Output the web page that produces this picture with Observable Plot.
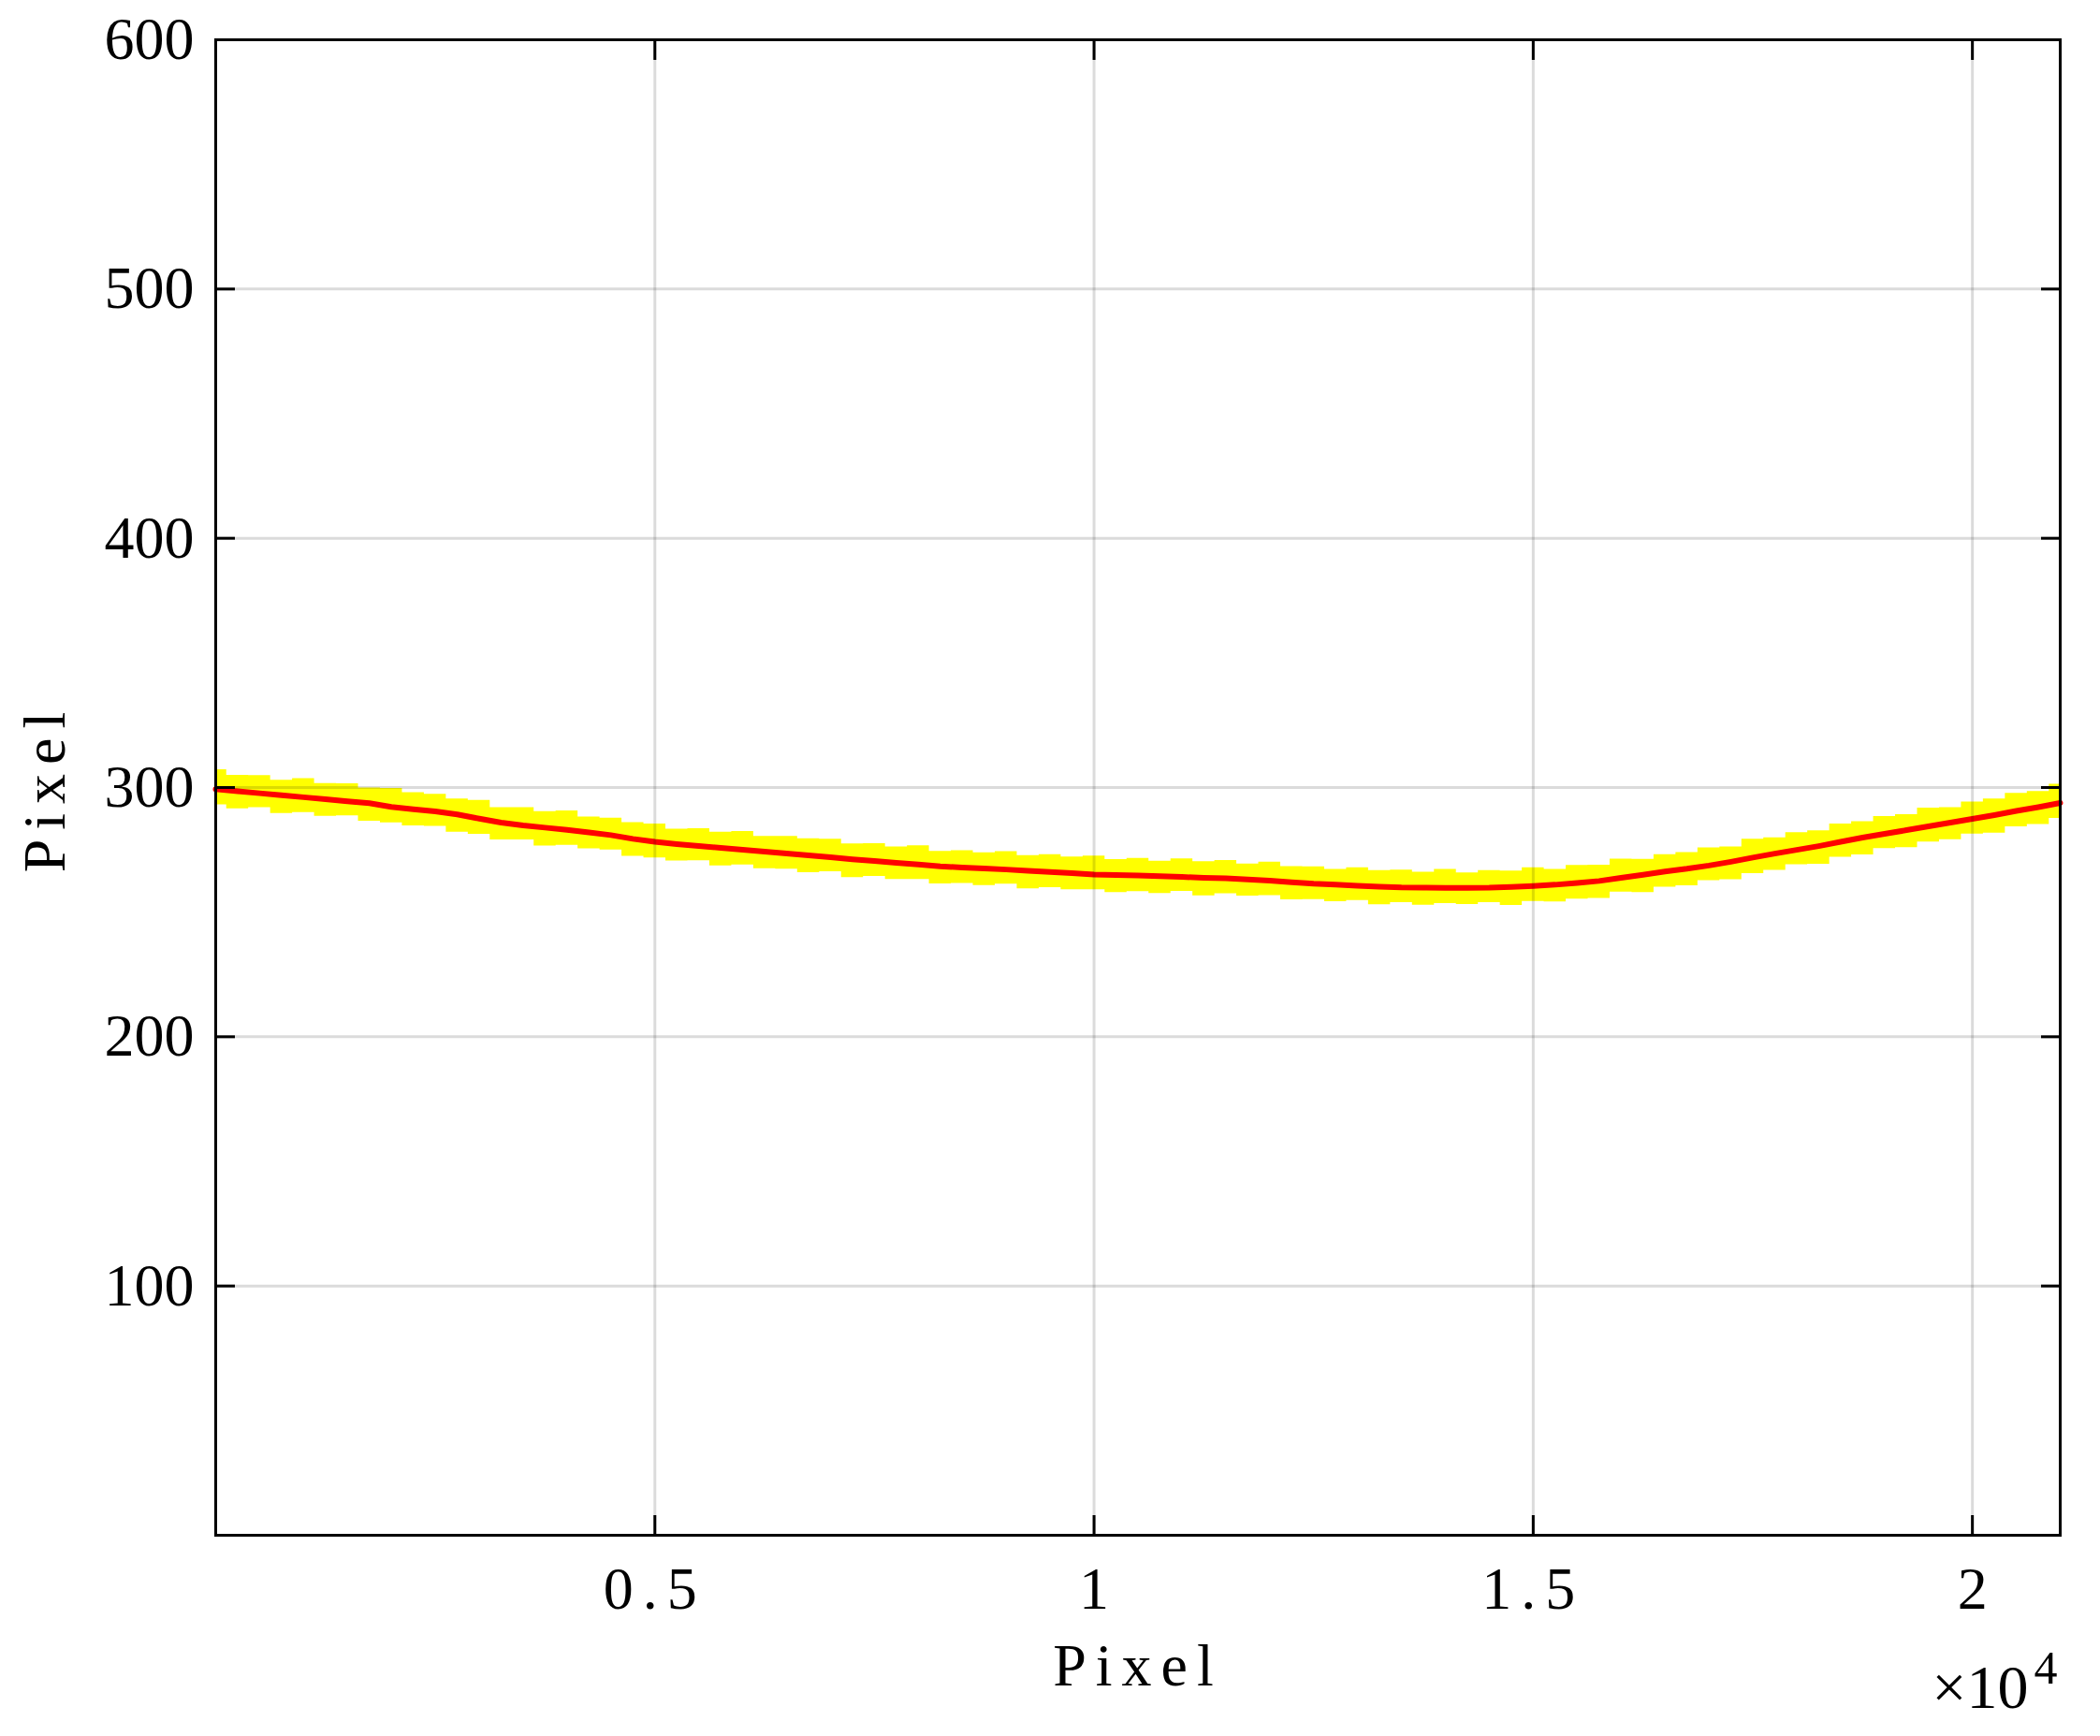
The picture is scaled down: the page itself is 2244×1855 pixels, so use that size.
<!DOCTYPE html>
<html><head><meta charset="utf-8">
<script src="https://cdn.jsdelivr.net/npm/d3@7"></script>
<script src="https://cdn.jsdelivr.net/npm/@observablehq/plot@0.6"></script>
<style>
body{margin:0;background:#fff}
svg{font-family:"Liberation Serif",serif}
</style></head><body><div id="chart"></div>
<script>
// sampling grid of the traces (pixel index step)
const sampleStep = 250;
// red trace (fitted centre), one value per sample
const centre = [
299.3,298.5,297.7,296.9,296.1,295.3,294.5,293.7,292.2,291.3,
290.4,289.2,287.5,285.9,284.8,283.9,283.0,282.0,280.9,279.4,
278.2,277.3,276.5,275.8,275.0,274.3,273.5,272.8,272.0,271.2,
270.5,269.8,269.1,268.4,267.9,267.5,267.1,266.6,266.1,265.6,
265.1,264.9,264.7,264.4,264.1,263.8,263.6,263.1,262.6,262.0,
261.4,261.0,260.6,260.2,259.9,259.8,259.7,259.7,259.8,260.1,
260.5,261.0,261.7,262.5,263.8,265.0,266.3,267.4,268.7,270.2,
271.9,273.5,275.0,276.5,278.2,279.9,281.4,282.9,284.4,285.9,
287.4,288.9,290.6,292.1,293.8];
// yellow raw trace spread above / below the centre
const upperSpread = [
7.8,6.4,7.1,6.0,7.5,6.3,7.0,6.1,7.4,6.6,
6.9,6.2,7.3,6.0,7.1,6.4,7.6,6.2,6.8,6.5,
7.2,6.0,7.0,6.3,7.4,6.1,6.9,6.6,7.3,6.2,
7.0,6.4,7.5,6.0,6.8,6.3,7.2,6.1,7.0,6.5,
7.4,6.2,6.9,6.0,7.3,6.4,7.1,6.2,7.5,6.3,
6.8,6.1,7.2,6.5,7.0,6.2,7.4,6.0,6.9,6.4,
7.3,6.1,7.0,6.3,7.5,6.2,6.8,6.5,7.1,6.0,
7.4,6.3,6.9,6.1,7.2,6.4,7.0,6.2,7.3,6.0,
6.8,6.5,7.1,6.3,7.5];
const lowerSpread = [
6.2,7.0,5.8,7.3,6.1,6.8,5.9,7.2,6.4,6.7,
6.0,7.1,6.3,6.9,5.8,7.4,6.2,6.6,6.0,7.0,
6.5,6.8,5.9,7.2,6.1,6.9,6.3,7.0,5.8,7.3,
6.2,6.7,6.0,7.1,6.4,6.8,5.9,7.2,6.3,6.6,
6.1,7.0,6.5,6.9,5.8,7.3,6.2,6.7,6.0,7.1,
6.4,6.8,5.9,7.2,6.1,7.0,6.3,6.6,6.0,7.4,
6.2,6.9,6.5,7.0,5.8,7.1,6.3,6.8,6.1,7.2,
6.4,6.7,6.0,7.3,6.2,6.9,5.9,7.0,6.3,6.8,
6.1,7.2,6.4,6.9,6.2];
const xDomain = [0, 21000];
const yDomain = [0, 600];
const xTicks = [5000, 10000, 15000, 20000];
const xTickLabels = ["0.5", "1", "1.5", "2"];
const yTicks = [100, 200, 300, 400, 500, 600];
const yTickLabels = ["100", "200", "300", "400", "500", "600"];
const xLabel = "Pixel";
const yLabel = "Pixel";
const exponentBase = "×10";
const exponentPower = "4";

const rows = centre.map((c, i) => ({
  x: i * sampleStep, c, hi: c + upperSpread[i], lo: c - lowerSpread[i]
}));

const plot = Plot.plot({
  width: 2244, height: 1855,
  marginLeft: 230, marginRight: 43, marginTop: 42, marginBottom: 215,
  style: {fontFamily: "Liberation Serif", fontSize: "64px", color: "black", background: "white", overflow: "visible"},
  x: {domain: xDomain},
  y: {domain: yDomain},
  marks: [
    Plot.areaY(rows, {x: "x", y1: "lo", y2: "hi", fill: "#ffff00", curve: "step"}),
    Plot.lineY(rows, {x: "x", y: "c", stroke: "#ff0000", strokeWidth: 6}),
    Plot.gridX(xTicks, {stroke: "black", strokeOpacity: 0.14, strokeWidth: 3}),
    Plot.gridY(yTicks, {stroke: "black", strokeOpacity: 0.14, strokeWidth: 3}),
    Plot.axisX({anchor: "bottom", ticks: xTicks, tickSize: -21, tickPadding: 54, strokeWidth: 3,
      tickFormat: d => xTickLabels[xTicks.indexOf(d)], label: null}),
    Plot.axisX({anchor: "top", ticks: xTicks, tickSize: -21, strokeWidth: 3, tickFormat: () => "", label: null}),
    Plot.axisY({anchor: "left", ticks: yTicks, tickSize: -21, tickPadding: 44, strokeWidth: 3,
      tickFormat: d => yTickLabels[yTicks.indexOf(d)], label: null}),
    Plot.axisY({anchor: "right", ticks: yTicks, tickSize: -21, strokeWidth: 3, tickFormat: () => "", label: null}),
    Plot.frame({stroke: "black", strokeWidth: 3}),
    Plot.text([xLabel], {frameAnchor: "bottom", textAnchor: "middle", lineAnchor: "middle", dy: 140, fontSize: 64}),
    Plot.text([yLabel], {frameAnchor: "left", textAnchor: "middle", lineAnchor: "middle", dx: -182, rotate: -90, fontSize: 64}),
    Plot.text([exponentBase], {frameAnchor: "bottom-right", textAnchor: "end", lineAnchor: "middle", dx: -34, dy: 163, fontSize: 66}),
    Plot.text([exponentPower], {frameAnchor: "bottom-right", textAnchor: "start", lineAnchor: "middle", dx: -28, dy: 142, fontSize: 50})
  ]
});
document.getElementById("chart").appendChild(plot);
d3.select(plot).selectAll("text").each(function() {
  const t = this.textContent;
  if (t === "Pixel") this.setAttribute("letter-spacing", "10px");
  if (t === "0.5" || t === "1.5") this.setAttribute("letter-spacing", "10px");
});
</script></body></html>
